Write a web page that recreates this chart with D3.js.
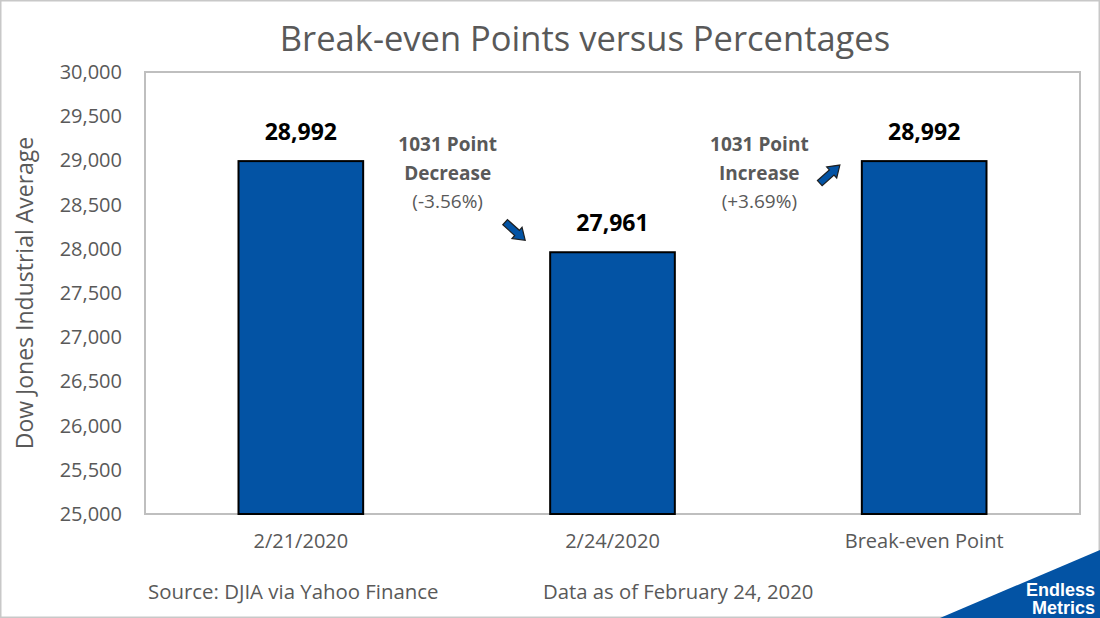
<!DOCTYPE html>
<html><head><meta charset="utf-8">
<script src="https://cdn.jsdelivr.net/npm/d3@7"></script>
<style>body{margin:0;background:#fff}svg{display:block}</style>
</head><body><svg id="c" width="1100" height="618"></svg>
<script>
const categories = ["2/21/2020", "2/24/2020", "Break-even Point"];
const values = [28992, 27961, 28992];
const yTicks = [25000, 25500, 26000, 26500, 27000, 27500, 28000, 28500, 29000, 29500, 30000];
const annotations = [
  {between: [0, 1], lines: ["1031 Point", "Decrease", "(-3.56%)"], dir: "down"},
  {between: [1, 2], lines: ["1031 Point", "Increase", "(+3.69%)"], dir: "up"}
];
const title = "Break-even Points versus Percentages";
const yTitle = "Dow Jones Industrial Average";
const footLeft = "Source: DJIA via Yahoo Finance";
const footRight = "Data as of February 24, 2020";

const W = 1100, H = 618;
const m = {l: 145, r: 20, t: 72, b: 104};
const font = "'Open Sans', sans-serif";
const gray = "#595959";
const blue = "#0353A4";
const svg = d3.select("#c");

svg.append("rect").attr("x", 0.5).attr("y", 0.5).attr("width", W - 1).attr("height", H - 1)
  .attr("fill", "#fff").attr("stroke", "#c8c8c8").attr("stroke-width", 2);

const x = d3.scaleBand().domain(categories).range([m.l, W - m.r]).padding(0);
const y = d3.scaleLinear().domain([25000, 30000]).range([H - m.b, m.t]);

svg.append("rect").attr("x", m.l).attr("y", m.t).attr("width", W - m.r - m.l).attr("height", H - m.b - m.t)
  .attr("fill", "none").attr("stroke", "#bfbfbf").attr("stroke-width", 2);

const bw = x.bandwidth() * 0.4;
svg.selectAll("rect.bar").data(values).join("rect").attr("class", "bar")
  .attr("x", (d, i) => x(categories[i]) + x.bandwidth() / 2 - bw / 2)
  .attr("y", d => y(d)).attr("width", bw).attr("height", d => y(25000) - y(d))
  .attr("fill", blue).attr("stroke", "#000").attr("stroke-width", 2);

svg.selectAll("text.dl").data(values).join("text").attr("class", "dl")
  .attr("x", (d, i) => x(categories[i]) + x.bandwidth() / 2)
  .attr("y", d => y(d) - 21)
  .attr("text-anchor", "middle").attr("font-family", font).attr("font-weight", "bold")
  .attr("font-size", 23).attr("fill", "#000").text(d => d3.format(",")(d));

const yAxis = d3.axisLeft(y).tickValues(yTicks).tickFormat(d3.format(",")).tickSize(0).tickPadding(23);
const ga = svg.append("g").attr("transform", `translate(${m.l},0)`).call(yAxis);
ga.select(".domain").remove();
ga.selectAll("text").attr("font-family", font).attr("font-size", 20).attr("fill", gray);

const xAxis = d3.axisBottom(x).tickSize(0).tickPadding(20);
const gx = svg.append("g").attr("transform", `translate(0,${H - m.b})`).call(xAxis);
gx.select(".domain").remove();
gx.selectAll("text").attr("font-family", font).attr("font-size", 20).attr("fill", gray);

svg.append("text").attr("x", 585).attr("y", 51).attr("text-anchor", "middle")
  .attr("font-family", font).attr("font-size", 34.5).attr("fill", gray).text(title);

svg.append("text").attr("transform", `translate(33,${(m.t + H - m.b) / 2}) rotate(-90)`)
  .attr("text-anchor", "middle").attr("font-family", font).attr("font-size", 23).attr("fill", gray).text(yTitle);

svg.append("text").attr("x", 148).attr("y", 599).attr("font-family", font).attr("font-size", 20.4).attr("fill", gray).text(footLeft);
svg.append("text").attr("x", 543).attr("y", 599).attr("font-family", font).attr("font-size", 20.3).attr("fill", gray).text(footRight);

const topMax = y(d3.max(values));
annotations.forEach(a => {
  const c0 = x(categories[a.between[0]]) + x.bandwidth() / 2;
  const c1 = x(categories[a.between[1]]) + x.bandwidth() / 2;
  const cx = (c0 + c1) / 2 - 9;
  a.lines.forEach((t, i) => {
    svg.append("text").attr("x", cx).attr("y", topMax - 10 + i * 28.5).attr("text-anchor", "middle")
      .attr("font-family", font).attr("font-size", 19).attr("font-weight", i < 2 ? "bold" : "normal")
      .attr("fill", gray).text(t);
  });
  const bx = c1 - bw / 2;
  let ax, ay, ang;
  if (a.dir === "down") { ax = bx - 35; ay = y(values[a.between[1]]) - 21; ang = 42; }
  else { ax = bx - 32; ay = topMax + 13; ang = -42; }
  const L = 27, sw = 7, hw = 15, hl = 11;
  const pts = [[0, -sw / 2], [L - hl, -sw / 2], [L - hl, -hw / 2], [L, 0], [L - hl, hw / 2], [L - hl, sw / 2], [0, sw / 2]];
  svg.append("polygon").attr("points", pts.map(p => p.join(",")).join(" "))
    .attr("transform", `translate(${ax},${ay}) rotate(${ang}) translate(${-L / 2},0)`)
    .attr("fill", blue).attr("stroke", "#1f1f1f").attr("stroke-width", 1.2);
});

svg.append("polygon").attr("points", `940,${H} ${W},550 ${W},${H}`).attr("fill", blue);
svg.append("text").attr("x", 1095).attr("y", 596).attr("text-anchor", "end").attr("font-family", "'Liberation Sans', Arial, sans-serif")
  .attr("font-weight", "bold").attr("font-size", 18).attr("fill", "#fff").text("Endless");
svg.append("text").attr("x", 1095).attr("y", 614).attr("text-anchor", "end").attr("font-family", "'Liberation Sans', Arial, sans-serif")
  .attr("font-weight", "bold").attr("font-size", 18).attr("fill", "#fff").text("Metrics");
</script></body></html>
